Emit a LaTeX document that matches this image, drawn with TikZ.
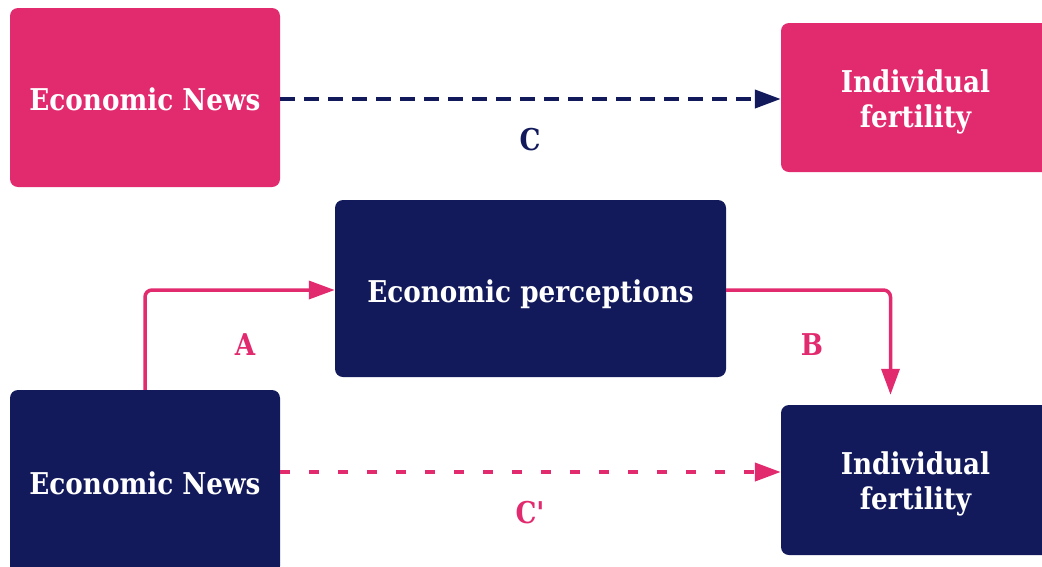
\documentclass[tikz,border=0pt]{standalone}
\usepackage{fontspec}
\newfontfamily\diafont{DejaVu Serif}[FakeStretch=0.875]
\usetikzlibrary{arrows.meta}
\definecolor{pinkc}{HTML}{E22A6F}
\definecolor{navyc}{HTML}{121A5C}
\begin{document}
\begin{tikzpicture}[x=1pt,y=-1pt,
  box/.style={rounded corners=8pt, text=white, align=center, inner sep=0pt,
    font=\diafont\bfseries\fontsize{30}{35}\selectfont},
  pinkbox/.style={box, fill=pinkc},
  navybox/.style={box, fill=navyc},
  lbl/.style={font=\diafont\bfseries\fontsize{30}{35}\selectfont, inner sep=0pt},
  tip/.style={-{Triangle[length=26pt,width=18pt]}},
  navydash/.style={tip, draw=navyc, line width=4pt, dash pattern=on 15pt off 9pt},
  pinkdash/.style={tip, draw=pinkc, line width=4pt, dash pattern=on 10pt off 19pt},
  pinkline/.style={tip, draw=pinkc, line width=3.5pt, rounded corners=7pt}]
\useasboundingbox (0,0) rectangle (1042,566);
\clip (0,0) rectangle (1042,566);
\node[pinkbox, minimum width=270pt, minimum height=179pt, text height=25pt, text depth=0pt] (n1) at (145,97.5) {Economic News};
\node[pinkbox, minimum width=269pt, minimum height=149pt] (f1) at (915.5,97.5) {\rule{0pt}{31pt}Individual\\fertility};
\node[navybox, minimum width=391pt, minimum height=177pt, text height=27pt, text depth=0pt] (p) at (530.5,288.5) {Economic perceptions};
\node[navybox, minimum width=270pt, minimum height=184pt, text height=25pt, text depth=0pt] (n2) at (145,482) {Economic News};
\node[navybox, minimum width=269pt, minimum height=150pt] (f2) at (915.5,480) {\rule{0pt}{31pt}Individual\\fertility};
\coordinate (bt) at ([xshift=-25pt]f2.north);
\draw[navydash] ([yshift=-1.5pt]n1.east) -- ([yshift=-1.5pt]f1.west);
\draw[pinkline] (n2.north) |- ([yshift=-1.5pt]p.west);
\draw[pinkline, shorten >=10pt] ([yshift=-1.5pt]p.east) -| (bt);
\draw[pinkdash] ([yshift=10pt]n2.east) -- ([yshift=8pt]f2.west);
\node[lbl, text=navyc] (lc) at (530,140) {C};
\node[lbl, text=pinkc] (la) at (245,345) {A};
\node[lbl, text=pinkc] (lb) at (812,345) {B};
\node[lbl, text=pinkc] (lc2) at (530,513) {C'};
\end{tikzpicture}
\end{document}
